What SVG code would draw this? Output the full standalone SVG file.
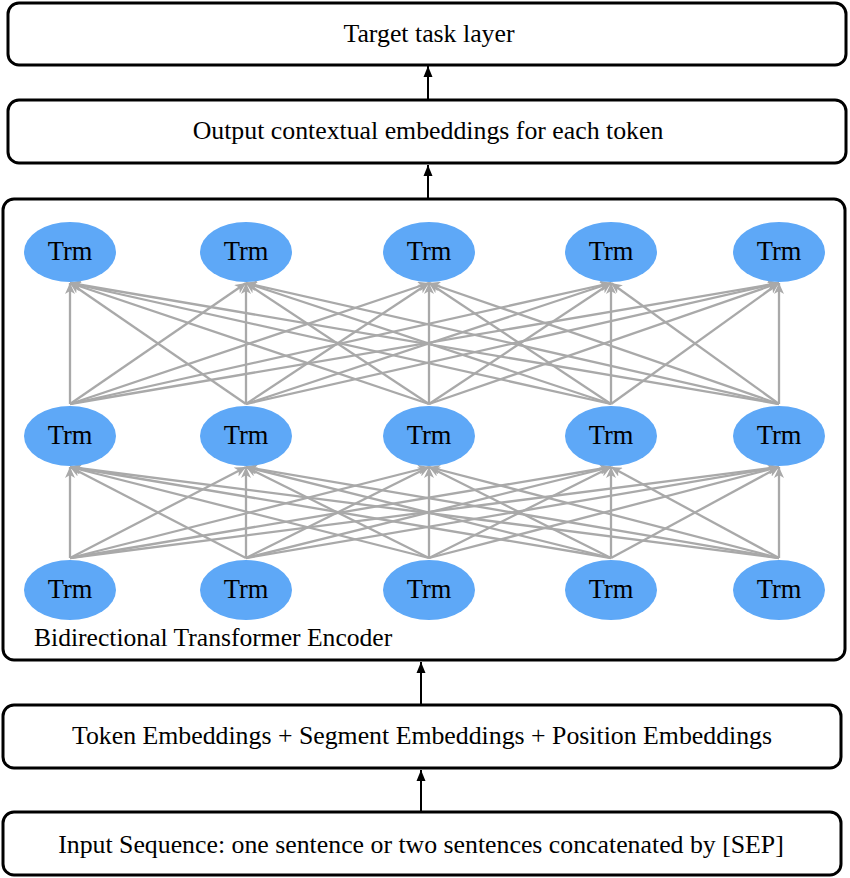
<svg xmlns="http://www.w3.org/2000/svg" width="850" height="878" viewBox="0 0 850 878">
<defs>
<style>
.box{fill:#fff;stroke:#000;stroke-width:3}
.lbl{font-family:"Liberation Serif","Times New Roman",serif;font-size:25.8px;fill:#000;text-anchor:middle}
.trm{font-family:"Liberation Serif","Times New Roman",serif;font-size:26.5px;fill:#000;text-anchor:middle}
.ell{fill:#5ea8f7}
.g{stroke:#a9a9a9;stroke-width:2.3;fill:none;marker-end:url(#ga)}
.k{stroke:#000;stroke-width:2;fill:none;marker-end:url(#ka)}
</style>
<marker id="ga" markerUnits="userSpaceOnUse" markerWidth="12" markerHeight="10" viewBox="0 0 12 10" refX="11" refY="5" orient="auto">
<path d="M0,0 L11,5 L0,10 L3,5 Z" fill="#a9a9a9"/>
</marker>
<marker id="ka" markerUnits="userSpaceOnUse" markerWidth="12" markerHeight="10" viewBox="0 0 12 10" refX="11" refY="5" orient="auto">
<path d="M0,0.5 L11,5 L0,9.5 Z" fill="#000"/>
</marker>
</defs>
<rect width="850" height="878" fill="#fff"/>

<g id="connectors">
<line class="k" x1="428" y1="100" x2="428" y2="66"/>
<line class="k" x1="428" y1="199" x2="428" y2="165"/>
<line class="k" x1="421" y1="705" x2="421" y2="662"/>
<line class="k" x1="421" y1="812" x2="421" y2="770"/>
<g id="layer1">
<path class="g" d="M70,558 L70,467"/><path class="g" d="M70,558 L246,467"/><path class="g" d="M70,558 L429,467"/><path class="g" d="M70,558 L611,467"/><path class="g" d="M70,558 L779,467"/>
<path class="g" d="M246,558 L70,467"/><path class="g" d="M246,558 L246,467"/><path class="g" d="M246,558 L429,467"/><path class="g" d="M246,558 L611,467"/><path class="g" d="M246,558 L779,467"/>
<path class="g" d="M429,558 L70,467"/><path class="g" d="M429,558 L246,467"/><path class="g" d="M429,558 L429,467"/><path class="g" d="M429,558 L611,467"/><path class="g" d="M429,558 L779,467"/>
<path class="g" d="M611,558 L70,467"/><path class="g" d="M611,558 L246,467"/><path class="g" d="M611,558 L429,467"/><path class="g" d="M611,558 L611,467"/><path class="g" d="M611,558 L779,467"/>
<path class="g" d="M779,558 L70,467"/><path class="g" d="M779,558 L246,467"/><path class="g" d="M779,558 L429,467"/><path class="g" d="M779,558 L611,467"/><path class="g" d="M779,558 L779,467"/>
</g>
<g id="layer2">
<path class="g" d="M70,404 L70,283"/><path class="g" d="M70,404 L246,283"/><path class="g" d="M70,404 L429,283"/><path class="g" d="M70,404 L611,283"/><path class="g" d="M70,404 L779,283"/>
<path class="g" d="M246,404 L70,283"/><path class="g" d="M246,404 L246,283"/><path class="g" d="M246,404 L429,283"/><path class="g" d="M246,404 L611,283"/><path class="g" d="M246,404 L779,283"/>
<path class="g" d="M429,404 L70,283"/><path class="g" d="M429,404 L246,283"/><path class="g" d="M429,404 L429,283"/><path class="g" d="M429,404 L611,283"/><path class="g" d="M429,404 L779,283"/>
<path class="g" d="M611,404 L70,283"/><path class="g" d="M611,404 L246,283"/><path class="g" d="M611,404 L429,283"/><path class="g" d="M611,404 L611,283"/><path class="g" d="M611,404 L779,283"/>
<path class="g" d="M779,404 L70,283"/><path class="g" d="M779,404 L246,283"/><path class="g" d="M779,404 L429,283"/><path class="g" d="M779,404 L611,283"/><path class="g" d="M779,404 L779,283"/>
</g>
</g>

<g id="target">
<rect class="box" x="8" y="3" width="838" height="62" rx="11"/>
<text class="lbl" x="429" y="42">Target task layer</text>
</g>
<g id="output">
<rect class="box" x="8" y="100" width="838" height="63" rx="11"/>
<text class="lbl" x="428" y="139">Output contextual embeddings for each token</text>
</g>
<g id="encoder">
<rect x="3" y="199" width="842" height="461" rx="11" fill="none" stroke="#000" stroke-width="3"/>
<text x="34" y="646" font-family="Liberation Serif,'Times New Roman',serif" font-size="25.6" fill="#000">Bidirectional Transformer Encoder</text>
</g>
<g id="trm-top-1"><ellipse class="ell" cx="70" cy="252" rx="46" ry="30"/><text class="trm" x="70" y="260">Trm</text></g>
<g id="trm-top-2"><ellipse class="ell" cx="246" cy="252" rx="46" ry="30"/><text class="trm" x="246" y="260">Trm</text></g>
<g id="trm-top-3"><ellipse class="ell" cx="429" cy="252" rx="46" ry="30"/><text class="trm" x="429" y="260">Trm</text></g>
<g id="trm-top-4"><ellipse class="ell" cx="611" cy="252" rx="46" ry="30"/><text class="trm" x="611" y="260">Trm</text></g>
<g id="trm-top-5"><ellipse class="ell" cx="779" cy="252" rx="46" ry="30"/><text class="trm" x="779" y="260">Trm</text></g>
<g id="trm-mid-1"><ellipse class="ell" cx="70" cy="436" rx="46" ry="30"/><text class="trm" x="70" y="444">Trm</text></g>
<g id="trm-mid-2"><ellipse class="ell" cx="246" cy="436" rx="46" ry="30"/><text class="trm" x="246" y="444">Trm</text></g>
<g id="trm-mid-3"><ellipse class="ell" cx="429" cy="436" rx="46" ry="30"/><text class="trm" x="429" y="444">Trm</text></g>
<g id="trm-mid-4"><ellipse class="ell" cx="611" cy="436" rx="46" ry="30"/><text class="trm" x="611" y="444">Trm</text></g>
<g id="trm-mid-5"><ellipse class="ell" cx="779" cy="436" rx="46" ry="30"/><text class="trm" x="779" y="444">Trm</text></g>
<g id="trm-bot-1"><ellipse class="ell" cx="70" cy="590" rx="46" ry="30"/><text class="trm" x="70" y="598">Trm</text></g>
<g id="trm-bot-2"><ellipse class="ell" cx="246" cy="590" rx="46" ry="30"/><text class="trm" x="246" y="598">Trm</text></g>
<g id="trm-bot-3"><ellipse class="ell" cx="429" cy="590" rx="46" ry="30"/><text class="trm" x="429" y="598">Trm</text></g>
<g id="trm-bot-4"><ellipse class="ell" cx="611" cy="590" rx="46" ry="30"/><text class="trm" x="611" y="598">Trm</text></g>
<g id="trm-bot-5"><ellipse class="ell" cx="779" cy="590" rx="46" ry="30"/><text class="trm" x="779" y="598">Trm</text></g>
<g id="embeddings">
<rect class="box" x="3" y="705" width="838" height="63" rx="11"/>
<text class="lbl" x="422" y="744">Token Embeddings + Segment Embeddings + Position Embeddings</text>
</g>
<g id="input">
<rect class="box" x="3" y="812" width="838" height="63" rx="11"/>
<text class="lbl" x="421" y="853">Input Sequence: one sentence or two sentences concatenated by [SEP]</text>
</g>
</svg>
